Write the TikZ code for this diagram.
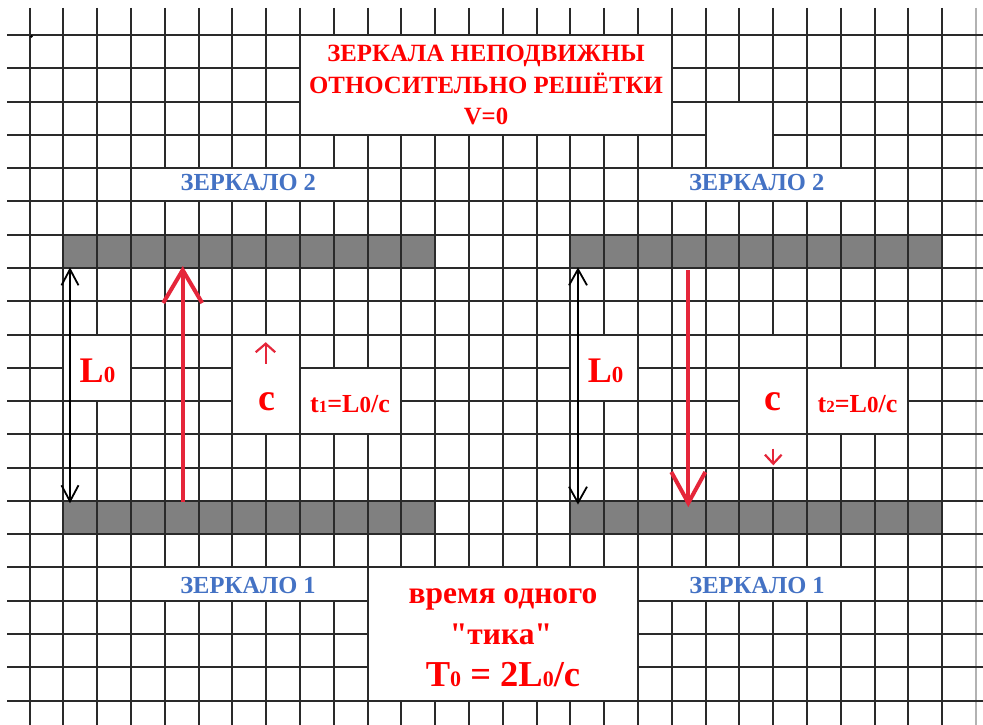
\documentclass[tikz,border=0pt]{standalone}
\usepackage{fontspec}
\setmainfont{Liberation Serif}[Ligatures=TeXOff]
\definecolor{gridcol}{HTML}{2A2A2A}
\definecolor{mirrorgray}{HTML}{808080}
\definecolor{titlered}{HTML}{FF0000}
\definecolor{labelblue}{HTML}{4472C4}
\definecolor{arrowred}{HTML}{E5263A}
\newcommand\GX[1]{(round(29.5+33.8*(#1)))}
\newcommand\GY[1]{(round(35+33.28*(#1)))}
\newcommand\fs[1]{\fontsize{#1}{#1}\selectfont}
\newcommand\whitepatch[4]{\fill[white] ({\GX{#1}+1},{\GY{#3}+1}) rectangle ({\GX{#2}-1},{\GY{#4}-1});}
\newcommand\mirrorbar[4]{\fill[mirrorgray] ({\GX{#1}},{\GY{#3}}) rectangle ({\GX{#2}},{\GY{#4}});}
\begin{document}
\begin{tikzpicture}[x=1pt,y=-1pt,
  gridline/.style={draw=gridcol,line width=2pt},
  txt/.style={inner sep=0pt,anchor=base,font=\bfseries},
  titletext/.style={txt,text=titlered,font=\bfseries\fs{24.8}},
  mirrorlabel/.style={txt,text=labelblue,font=\bfseries\fs{24.5}},
  redtext/.style={txt,text=titlered},
  bigred/.style={draw=arrowred,line width=4pt},
  smallred/.style={draw=arrowred,line width=2.2pt},
  blackarrow/.style={draw=black,line width=1.8pt}]
\useasboundingbox (0,0) rectangle (983,725);
\fill[white] (0,0) rectangle (983,725);
% mirrors
\mirrorbar{1}{12}{6}{7}
\mirrorbar{1}{12}{14}{15}
\mirrorbar{16}{27}{6}{7}
\mirrorbar{16}{27}{14}{15}
% grid
\foreach \n in {0,...,27} \draw[gridline] ({\GX{\n}},8) -- ({\GX{\n}},725);
\draw[gridline,draw=gray!60] ({\GX{28}},8) -- ({\GX{28}},725);
\foreach \k in {0,...,20} \draw[gridline] (7,{\GY{\k}}) -- (983,{\GY{\k}});
\fill[black] (31.5,36.5) circle (1.5);
% white patches where the text boxes cover the grid
\whitepatch{8}{19}{0}{3}
\whitepatch{20}{22}{2}{4}
\whitepatch{3}{10}{4}{5}
\whitepatch{18}{25}{4}{5}
\whitepatch{1}{3}{9}{11}
\whitepatch{16}{18}{9}{11}
\whitepatch{6}{8}{9}{12}
\whitepatch{8}{11}{10}{12}
\whitepatch{21}{23}{9}{10}
\whitepatch{21}{23}{10}{12}
\whitepatch{23}{26}{10}{12}
\whitepatch{21}{23}{12}{13}
\whitepatch{3}{10}{16}{17}
\whitepatch{10}{18}{16}{20}
\whitepatch{18}{25}{16}{17}
% title
\node[titletext] (title1) at (486,61.7) {ЗЕРКАЛА НЕПОДВИЖНЫ};
\node[titletext] (title2) at (486,94) {ОТНОСИТЕЛЬНО РЕШЁТКИ};
\node[titletext] (title3) at (486,124.3) {V=0};
% mirror labels
\node[mirrorlabel] (m2l) at (248.3,190.7) {ЗЕРКАЛО 2};
\node[mirrorlabel] (m2r) at (756.7,190.7) {ЗЕРКАЛО 2};
\node[mirrorlabel] (m1l) at (248,593.3) {ЗЕРКАЛО 1};
\node[mirrorlabel] (m1r) at (757,593.3) {ЗЕРКАЛО 1};
% L0 labels
\node[redtext] (L0l) at (97.5,382) {\fs{36}L\fs{23}0};
\node[redtext] (L0r) at (605.5,382) {\fs{36}L\fs{23}0};
% c labels
\node[redtext] (cl) at (266.7,410) {\fs{38}c};
\node[redtext] (cr) at (773.3,410) {\fs{38}c};
% time formulas
\node[redtext] (t1) at (350,412) {\fs{26}t\fs{17}1\fs{26}=L\fs{23}0\fs{26}/c};
\node[redtext] (t2) at (857.5,412.3) {\fs{26}t\fs{17}2\fs{26}=L\fs{23}0\fs{26}/c};
% tick text
\node[redtext] (tick1) at (503,603.3) {\fs{31.5}время одного};
\node[redtext] (tick2) at (501,644) {\fs{31.5}"тика"};
\node[redtext] (tick3) at (503,686.7) {\fs{36.5}T\fs{22}0\fs{36.5} = 2L\fs{22}0\fs{36.5}/c};
% big red arrows (light)
\coordinate (upbase) at (182.7,502);
\coordinate (uptip) at (182.7,270);
\draw[bigred] (upbase) -- (uptip);
\draw[bigred,line join=miter] (uptip) ++(-19.5,33) -- (uptip) -- ++(19.5,33);
\coordinate (downbase) at (688.3,270);
\coordinate (downtip) at (688.3,503);
\draw[bigred] (downbase) -- (downtip);
\draw[bigred,line join=miter] (downtip) ++(-17,-31) -- (downtip) -- ++(17,-31);
% black double arrows (distance L0)
\coordinate (lAtop) at (70,269.3);
\coordinate (lAbot) at (70,501.3);
\draw[blackarrow] (lAtop) -- (lAbot);
\draw[blackarrow] (lAtop) ++(-8.5,16) -- (lAtop) -- ++(8.5,16);
\draw[blackarrow] (lAbot) ++(-8.5,-16) -- (lAbot) -- ++(8.5,-16);
\coordinate (rAtop) at (578,269.3);
\coordinate (rAbot) at (578,502.7);
\draw[blackarrow] (rAtop) -- (rAbot);
\draw[blackarrow] (rAtop) ++(-9,16) -- (rAtop) -- ++(9,16);
\draw[blackarrow] (rAbot) ++(-9,-16) -- (rAbot) -- ++(9,-16);
% small direction arrows
\coordinate (suBase) at (265.7,363.7);
\coordinate (suTip) at (265.7,343.7);
\draw[smallred] (suBase) -- (suTip);
\draw[smallred] (suTip) ++(-10,8.5) -- (suTip) -- ++(9.5,8.5);
\coordinate (sdBase) at (773.3,448.7);
\coordinate (sdTip) at (773.3,463.7);
\draw[smallred] (sdBase) -- (sdTip);
\draw[smallred] (sdTip) ++(-8.3,-9) -- (sdTip) -- ++(8.3,-9);
\end{tikzpicture}
\end{document}
